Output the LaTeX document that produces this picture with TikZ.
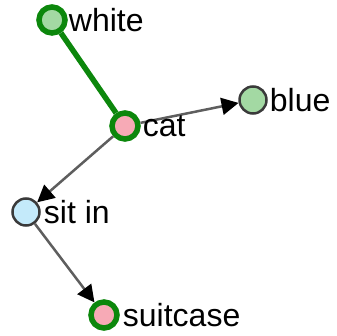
\documentclass[tikz,border=0pt]{standalone}
\usepackage{fontspec}
\setmainfont{Liberation Sans}
\usetikzlibrary{positioning,arrows.meta}

\definecolor{edgegreen}{HTML}{0C870C}
\definecolor{fillgreen}{HTML}{A3D9A3}
\definecolor{fillpink}{HTML}{F7AAB6}
\definecolor{fillblue}{HTML}{C4EAFA}
\definecolor{rimgray}{HTML}{3A3A3A}
\definecolor{linegray}{HTML}{5E5E5E}

\begin{document}
\begin{tikzpicture}[x=1pt, y=-1pt,
    vert/.style={circle, inner sep=0pt},
    strong/.style={vert, minimum size=26pt, draw=edgegreen, line width=5.5pt},
    weak/.style={vert, minimum size=27pt, draw=rimgray, line width=2.5pt},
    word/.style={inner sep=0pt, font=\fontsize{32}{32}\selectfont},
    link/.style={draw=linegray, line width=2.5pt, -{Triangle[length=17pt, width=17pt, black]}}]
        \useasboundingbox (0,0) rectangle (336,336);

        % Nodes
        \node[strong, fill=fillgreen] (vwhite) at (52, 20) {};
        \node[strong, fill=fillpink] (vcat) at (125, 126) {};
        \node[weak, fill=fillgreen] (vblue) at (253, 100) {};
        \node[weak, fill=fillblue] (vsit) at (26, 212) {};
        \node[strong, fill=fillpink] (vsuit) at (104, 315) {};

        % Edges
        \draw[edgegreen, line width=5.5pt] (vwhite) -- (vcat);
        \draw[link] (vcat) -- (vblue);
        \draw[link] (vcat) -- (vsit);
        \draw[link] (vsit) -- (vsuit);

        % Labels
        \node[word, right=1pt of vwhite] (twhite) {white};
        \node[word, right=2pt of vcat] (tcat) {cat};
        \node[word, right=2pt of vblue] (tblue) {blue};
        \node[word, right=3pt of vsit] (tsit) {sit in};
        \node[word, right=3pt of vsuit] (tsuit) {suitcase};
    \end{tikzpicture}
\end{document}
